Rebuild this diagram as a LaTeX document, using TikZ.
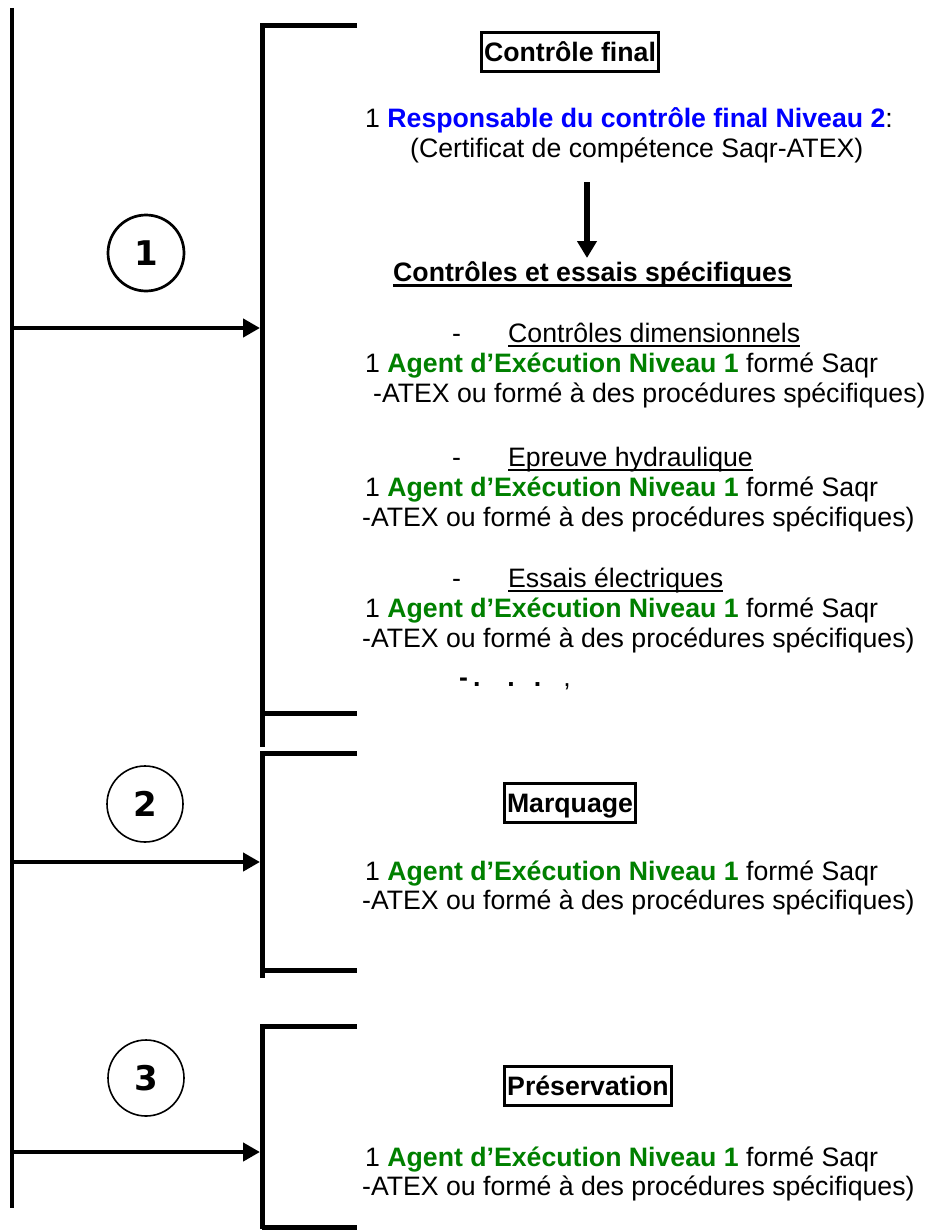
\documentclass[tikz,border=0pt]{standalone}
\usepackage{fontspec}
\setmainfont{Liberation Sans}
\newfontfamily\digitfont{DejaVu Sans}
\usetikzlibrary{arrows.meta}
\definecolor{agreen}{RGB}{0,128,0}
\definecolor{ablue}{RGB}{0,0,255}
\newcommand{\agent}{1 \textcolor{agreen}{\bfseries Agent d’Exécution Niveau 1} formé Saqr}
\newcommand{\atex}{-ATEX ou formé à des procédures spécifiques)}
\begin{document}
\begin{tikzpicture}[x=1pt,y=-1pt,
  txt/.style={anchor=base west, inner sep=0pt, font=\fontsize{26.67}{30}\selectfont},
  boxed/.style={draw, line width=3pt, inner xsep=3pt, inner ysep=0pt, minimum height=39pt,
    text height=19pt, text depth=0pt, font=\fontsize{26.67}{30}\selectfont\bfseries},
  numc/.style={circle, draw, inner sep=0pt, minimum size=76pt,
    font=\digitfont\bfseries\fontsize{34}{34}\selectfont},
  bracket/.style={line width=5pt},
  spine/.style={line width=4pt},
  harrow/.style={line width=4.5pt, -{Triangle[length=17pt,width=18pt]}},
  varrow/.style={line width=6pt, -{Triangle[length=17pt,width=19pt]}},
  ul/.style={line width=1.6pt},
  ulb/.style={line width=2.6pt}
]
\useasboundingbox (0,0) rectangle (930,1231);

% spine
\coordinate (s0) at (12,8);
\coordinate (s1) at (12,328);
\coordinate (s2) at (12,862);
\coordinate (s3) at (12,1152);
\coordinate (send) at (12,1208);
\draw[spine] (s0) -- (send);

% brackets
\coordinate (b1) at (260,328);
\coordinate (b2) at (260,862);
\coordinate (b3) at (260,1152);
\draw[bracket] (357,26) -- (262,26) -- (262,747);
\draw[bracket] (262,713) -- (357,713);
\draw[bracket] (357,753) -- (262,753) -- (262,978);
\draw[bracket] (262,970) -- (357,970);
\draw[bracket] (357,1026) -- (262,1026) -- (262,1229);
\draw[bracket] (262,1227) -- (357,1227);

% arrows from spine
\draw[harrow] (s1) -- (b1);
\draw[harrow] (s2) -- (b2);
\draw[harrow] (s3) -- (b3);

% circles
\node[numc, line width=2.7pt] (c1) at (146,253) {1};
\node[numc, line width=1.6pt] (c2) at (145,804) {2};
\node[numc, line width=1.6pt] (c3) at (146,1078) {3};

% section 1
\node[boxed] (cf) at (570,52) {Contrôle final};
\node[txt] (resp) at (365,127.5) {1 \textcolor{ablue}{\bfseries Responsable du contrôle final Niveau 2}:};
\node[txt] (cert) at (410,157.5) {(Certificat de compétence Saqr-ATEX)};
\coordinate (da1) at (587,182);
\coordinate (da2) at (587,258);
\draw[varrow] (da1) -- (da2);
\node[txt, font=\fontsize{26.67}{30}\selectfont\bfseries] (head) at (393,281.5) {Contrôles et essais spécifiques};
\draw[ulb] ([yshift=-4pt]head.base west) -- ([yshift=-4pt]head.base east);

\node[txt] (dash1) at (452,342.5) {-};
\node[txt] (it1) at (508,342.5) {Contrôles dimensionnels};
\draw[ul] ([yshift=-3.5pt]it1.base west) -- ([yshift=-3.5pt]it1.base east);
\node[txt] (ag1) at (365,372.5) {\agent};
\node[txt] (at1) at (373,402.5) {\atex};

\node[txt] (dash2) at (452,466.5) {-};
\node[txt] (it2) at (508,466.5) {Epreuve hydraulique};
\draw[ul] ([yshift=-3.5pt]it2.base west) -- ([yshift=-3.5pt]it2.base east);
\node[txt] (ag2) at (365,496.5) {\agent};
\node[txt] (at2) at (362,526.5) {\atex};

\node[txt] (dash3) at (452,587.5) {-};
\node[txt] (it3) at (508,587.5) {Essais électriques};
\draw[ul] ([yshift=-3.5pt]it3.base west) -- ([yshift=-3.5pt]it3.base east);
\node[txt] (ag3) at (365,617.5) {\agent};
\node[txt] (at3) at (362,647.5) {\atex};

\node[txt, font=\fontsize{26.67}{30}\selectfont\bfseries] (dots) at (459,686) {-\hspace{5pt}.\hspace{27pt}.\hspace{19pt}.\hspace{22pt}\mdseries,};

% section 2
\node[boxed] (mq) at (570,803) {Marquage};
\node[txt] (ag4) at (365,880.5) {\agent};
\node[txt] (at4) at (362,909.5) {\atex};

% section 3
\node[boxed] (pr) at (588,1086) {Préservation};
\node[txt] (ag5) at (365,1166.5) {\agent};
\node[txt] (at5) at (362,1195.5) {\atex};
\end{tikzpicture}
\end{document}
